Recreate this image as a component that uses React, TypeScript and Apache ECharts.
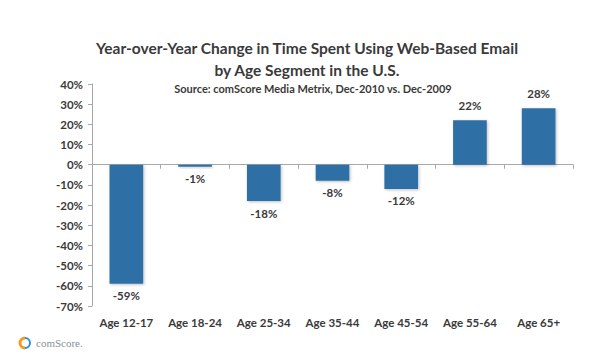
import React, { useEffect, useRef } from "react";
import * as echarts from "echarts";

const categories = ["Age 12-17", "Age 18-24", "Age 25-34", "Age 35-44", "Age 45-54", "Age 55-64", "Age 65+"];
const changeValues = [-59, -1, -18, -8, -12, 22, 28];
const titleLines = ["Year-over-Year Change in Time Spent Using Web-Based Email", "by Age Segment in the U.S."];
const subtitleText = "Source: comScore Media Metrix, Dec-2010 vs. Dec-2009";

const FONT = "Lato, 'Open Sans', sans-serif";

export default function App() {
  const ref = useRef<HTMLDivElement>(null);
  useEffect(() => {
    if (!ref.current) return;
    const chart = echarts.init(ref.current, null, { renderer: "svg" });
    chart.setOption({
      animation: false,
      backgroundColor: "#ffffff",
      textStyle: { fontFamily: FONT },
      title: [
        {
          text: titleLines.join("\n"),
          left: 302,
          top: 32,
          textAlign: "center",
          textStyle: { fontFamily: FONT, fontSize: 15.5, fontWeight: "bold", color: "#3a3a3a", lineHeight: 22 },
        },
        {
          text: subtitleText,
          left: 308,
          top: 78,
          textAlign: "center",
          textStyle: { fontFamily: FONT, fontSize: 11, fontWeight: "bold", color: "#3a3a3a" },
        },
      ],
      grid: { left: 92, right: 27, top: 84, bottom: 52, containLabel: false },
      xAxis: {
        type: "category",
        data: categories,
        position: "bottom",
        axisLine: { show: true, onZero: true, lineStyle: { color: "#a8a8a8", width: 1 } },
        axisTick: { show: true, inside: false, length: 4, lineStyle: { color: "#a8a8a8" } },
        axisLabel: {
          show: true,
          interval: 0,
          fontFamily: FONT,
          fontSize: 11.5,
          fontWeight: "bold",
          color: "#3a3a3a",
          margin: 10,
        },
      },
      yAxis: {
        type: "value",
        min: -70,
        max: 40,
        interval: 10,
        axisLine: { show: true, lineStyle: { color: "#a8a8a8" } },
        axisTick: { show: true, length: 4, lineStyle: { color: "#a8a8a8" } },
        splitLine: { show: false },
        axisLabel: {
          formatter: "{value}%",
          fontFamily: FONT,
          fontSize: 11.5,
          fontWeight: "bold",
          color: "#3a3a3a",
          margin: 9,
        },
      },
      series: [
        {
          type: "bar",
          data: changeValues.map((v) => ({
            value: v,
            label: {
              show: true,
              position: v >= 0 ? "top" : "bottom",
              distance: v >= 0 ? 9 : 6,
              formatter: "{c}%",
              fontFamily: FONT,
              fontSize: 11.5,
              fontWeight: "bold",
              color: "#3a3a3a",
            },
          })),
          barWidth: "49%",
          itemStyle: {
            color: "#2f6fa5",
            shadowColor: "rgba(0,0,0,0.25)",
            shadowBlur: 3,
            shadowOffsetX: 1,
            shadowOffsetY: 1,
          },
        },
      ],
      graphic: [
        {
          type: "arc",
          shape: { cx: 25, cy: 343, r: 5, startAngle: Math.PI / 2, endAngle: (3 * Math.PI) / 2 },
          style: { stroke: "#f39c1f", lineWidth: 3, fill: null },
        },
        {
          type: "arc",
          shape: { cx: 25, cy: 343, r: 5, startAngle: -Math.PI / 2, endAngle: Math.PI / 2 },
          style: { stroke: "#2f8fd0", lineWidth: 2, fill: null },
        },
        {
          type: "text",
          x: 36,
          y: 343,
          style: {
            text: "comScore.",
            fontFamily: "'Liberation Serif', serif",
            fontSize: 11,
            fill: "#8a8f96",
            textVerticalAlign: "middle",
          },
        },
      ],
    });
    return () => chart.dispose();
  }, []);
  return <div ref={ref} style={{ width: 600, height: 358, position: "absolute", left: 0, top: 0 }} />;
}
